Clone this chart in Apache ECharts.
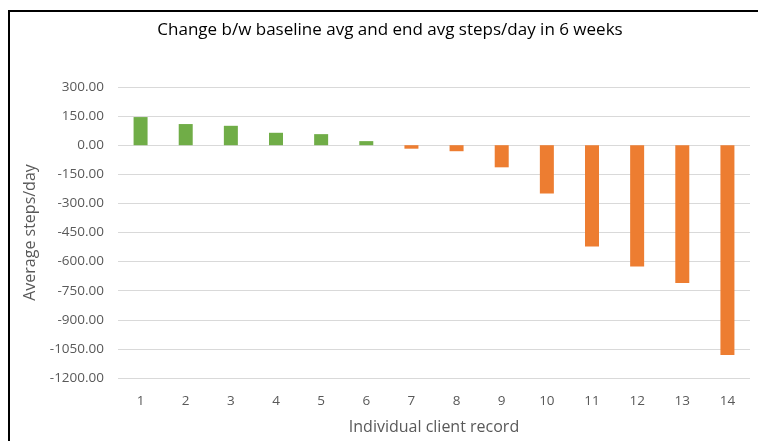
<!DOCTYPE html>
<html>
<head>
<meta charset="utf-8">
<script src="https://cdn.jsdelivr.net/npm/echarts@6/dist/echarts.min.js"></script>
<style>
  html, body { margin: 0; padding: 0; background: #fff; }
  #frame {
    position: absolute; left: 8px; top: 10px; width: 760px; height: 440px;
    border-left: 2px solid #000; border-top: 2px solid #000;
  }
  #chart { position: absolute; left: 0; top: 0; width: 758px; height: 441px; }
</style>
</head>
<body>
<div id="frame"></div>
<div id="chart"></div>
<script>
const clients = ['1', '2', '3', '4', '5', '6', '7', '8', '9', '10', '11', '12', '13', '14']
const stepChange = [145, 109, 100, 64, 57, 21, -18, -31, -114, -249, -522, -625, -710, -1081]
const yTicks = { min: -1200, max: 300, interval: 150 }

const green = '#70ad47'
const orange = '#ed7d31'
const font = 'Open Sans, Noto Sans, sans-serif'

const chart = echarts.init(document.getElementById('chart'))

const option = {
  animation: false,
  backgroundColor: 'transparent',
  title: {
    text: 'Change b/w baseline avg and end avg steps/day in 6 weeks',
    left: 385,
    top: 17,
    textAlign: 'center',
    textStyle: { fontFamily: font, fontSize: 17, fontWeight: 'normal', color: '#000' }
  },
  grid: { left: 118, right: 8, top: 87, bottom: 63 },
  xAxis: {
    type: 'category',
    data: clients,
    name: 'Individual client record',
    nameLocation: 'middle',
    nameGap: 41,
    nameTextStyle: { fontFamily: font, fontSize: 16, color: '#595959' },
    position: 'bottom',
    axisLine: { show: false },
    axisTick: { show: false },
    axisLabel: { fontFamily: font, fontSize: 13.5, color: '#595959', margin: 16 }
  },
  yAxis: {
    type: 'value',
    min: yTicks.min,
    max: yTicks.max,
    interval: yTicks.interval,
    name: 'Average steps/day',
    nameLocation: 'middle',
    nameGap: 79,
    nameTextStyle: { fontFamily: font, fontSize: 16, color: '#595959' },
    axisLabel: {
      fontFamily: font, fontSize: 13.5, color: '#595959', margin: 14,
      formatter: v => v.toFixed(2)
    },
    splitLine: { lineStyle: { color: '#d9d9d9', width: 1 } }
  },
  series: [
    {
      type: 'bar',
      barWidth: 14,
      data: stepChange.map(v => ({
        value: v,
        itemStyle: { color: v >= 0 ? green : orange }
      }))
    }
  ]
}

chart.setOption(option)
</script>
</body>
</html>
